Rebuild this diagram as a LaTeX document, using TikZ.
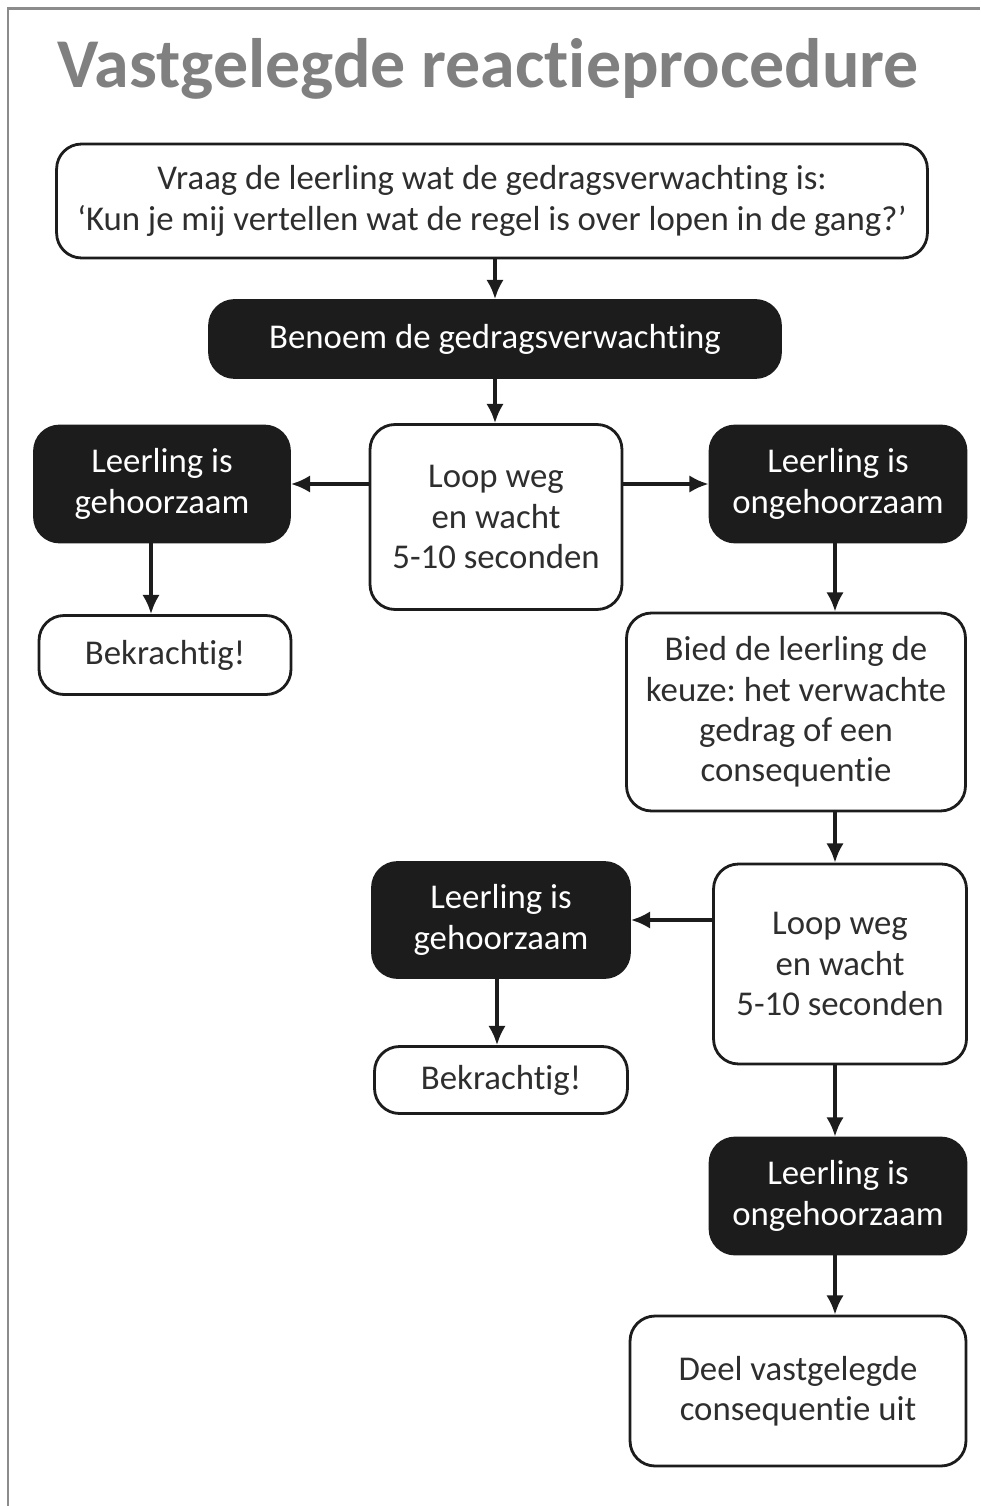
\documentclass[tikz,border=0pt]{standalone}
\usepackage{fontspec}
\setmainfont{Carlito}[Ligatures={NoCommon}]
\usetikzlibrary{arrows.meta}
\frenchspacing

\definecolor{titlegray}{HTML}{808080}
\definecolor{framegray}{HTML}{8C8C8C}
\definecolor{boxblack}{HTML}{1C1C1C}
\definecolor{textgray}{HTML}{2E2E2E}

\tikzset{
  box/.style={draw=boxblack, line width=1.6pt, rounded corners=0.5cm,
    align=center, inner sep=0pt, font=\fontsize{19.8}{23}\selectfont},
  whitebox/.style={box, fill=white, text=textgray},
  blackbox/.style={box, fill=boxblack, text=white},
  arr/.style={line width=2pt, draw=boxblack, -{Latex[length=11pt,width=10pt]}},
}

\begin{document}
\begin{tikzpicture}[x=0.02cm, y=-0.02cm]
\useasboundingbox (0,0) rectangle (980,1506);

% -----------------------------
% Frame and title
% -----------------------------
\draw[framegray, line width=1.7pt] (8,1506) -- (8,9) -- (980,9);
\node[anchor=base west, text=titlegray, inner sep=0pt,
  font=\fontsize{39.8}{44}\selectfont\bfseries] (title) at (57,88)
  {Vastgelegde reactieprocedure};

% -----------------------------
% First round
% -----------------------------
\node[whitebox, minimum width=17.42cm, minimum height=2.28cm] (vraag) at (492,201)
  {Vraag de leerling wat de gedragsverwachting is:\\
   ‘Kun je mij vertellen wat de regel is over lopen in de gang?’};
\node[blackbox, minimum width=11.42cm, minimum height=1.54cm] (benoem) at (495,339)
  {Benoem de gedragsverwachting};
\node[whitebox, minimum width=5.04cm, minimum height=3.7cm] (loop1) at (496,517)
  {Loop weg\\en wacht\\5-10 seconden};
\node[blackbox, minimum width=5.1cm, minimum height=2.32cm] (geh1) at (162,484)
  {Leerling is\\gehoorzaam};
\node[blackbox, minimum width=5.12cm, minimum height=2.32cm] (ong1) at (838,484)
  {Leerling is\\ongehoorzaam};
\node[whitebox, minimum width=5.04cm, minimum height=1.58cm] (bek1) at (165,655)
  {Bekrachtig!};

% -----------------------------
% Second round
% -----------------------------
\node[whitebox, minimum width=6.78cm, minimum height=3.96cm] (bied) at (796,712)
  {Bied de leerling de\\keuze: het verwachte\\gedrag of een\\consequentie};
\node[whitebox, minimum width=5.06cm, minimum height=4.0cm] (loop2) at (840,964)
  {Loop weg\\en wacht\\5-10 seconden};
\node[blackbox, minimum width=5.14cm, minimum height=2.3cm] (geh2) at (501,920)
  {Leerling is\\gehoorzaam};
\node[whitebox, minimum width=5.06cm, minimum height=1.34cm] (bek2) at (501,1080)
  {Bekrachtig!};
\node[blackbox, minimum width=5.12cm, minimum height=2.32cm] (ong2) at (838,1196)
  {Leerling is\\ongehoorzaam};
\node[whitebox, minimum width=6.72cm, minimum height=3.0cm] (deel) at (798,1391)
  {Deel vastgelegde\\consequentie uit};

% -----------------------------
% Arrows
% -----------------------------
\coordinate (colL) at (151,0);
\coordinate (colM) at (497,0);
\coordinate (colR) at (835,0);

\draw[arr] (vraag.south -| benoem) -- (benoem.north);
\draw[arr] (benoem.south) -- (benoem.south |- loop1.north);
\draw[arr] (loop1.west |- geh1.east) -- (geh1.east);
\draw[arr] (loop1.east |- ong1.west) -- (ong1.west);
\draw[arr] (geh1.south -| colL) -- (bek1.north -| colL);
\draw[arr] (ong1.south -| colR) -- (bied.north -| colR);
\draw[arr] (bied.south -| colR) -- (loop2.north -| colR);
\draw[arr] (loop2.west |- geh2.east) -- (geh2.east);
\draw[arr] (geh2.south -| colM) -- (bek2.north -| colM);
\draw[arr] (loop2.south -| colR) -- (ong2.north -| colR);
\draw[arr] (ong2.south -| colR) -- (deel.north -| colR);

\end{tikzpicture}
\end{document}
